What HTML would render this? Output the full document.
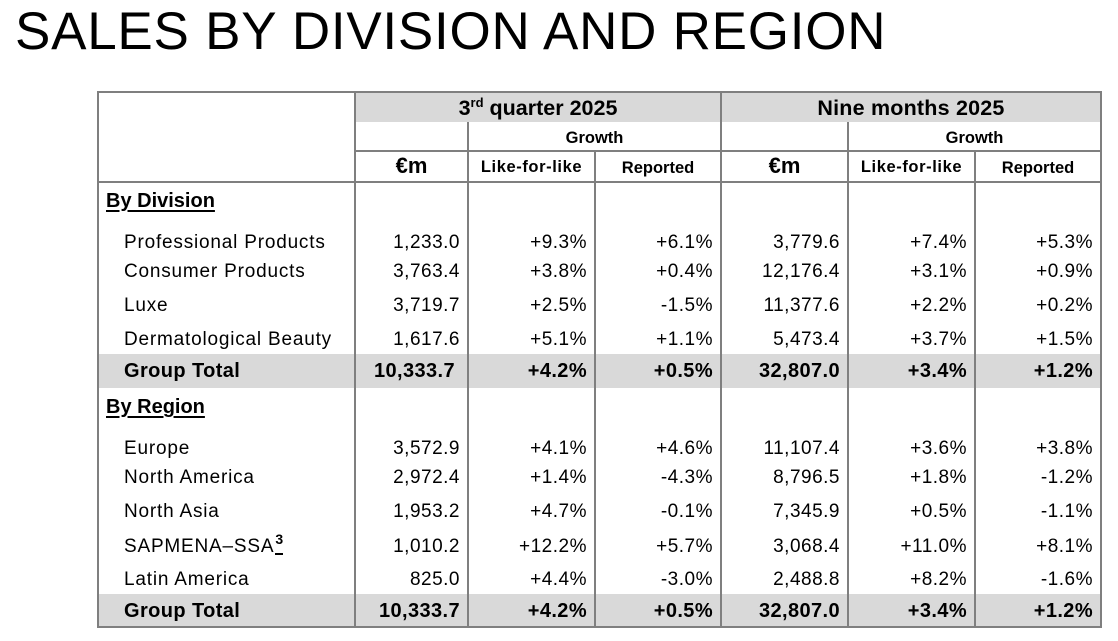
<!DOCTYPE html>
<html><head><meta charset="utf-8">
<style>
html,body{margin:0;padding:0;background:#fff;}
#p{position:relative;width:1118px;height:641px;overflow:hidden;background:#fff;font-family:"Liberation Sans",sans-serif;color:#000;}
.t{position:absolute;left:15px;top:5px;font-size:53px;line-height:53px;letter-spacing:0.75px;white-space:nowrap;}
.b{position:absolute;background:#d9d9d9;}
.l{position:absolute;background:#7f7f7f;}
.r{position:absolute;left:0;width:1118px;height:30px;line-height:30px;white-space:nowrap;}
.r > span{position:absolute;top:0;}
.lab{left:124px;font-size:19px;letter-spacing:0.8px;}
.sec{left:106px;font-size:20px;font-weight:bold;text-decoration:underline;text-underline-offset:3px;}
.n{font-size:19px;letter-spacing:0.5px;}
.bd .n,.bd .lab{font-size:20px;font-weight:bold;letter-spacing:0.4px;}
.c1{right:658px}.c2{right:531px}.c3{right:405px}.c4{right:278px}.c5{right:151px}.c6{right:25px}
.h{position:absolute;height:30px;line-height:30px;text-align:center;font-weight:bold;white-space:nowrap;}
.sup3{position:relative;top:-8px;font-size:14px;font-weight:bold;letter-spacing:0;margin-left:1px;}
.sup3::after{content:"";position:absolute;left:0;right:0;bottom:-8px;height:2px;background:#000;}
</style></head><body>
<div id="p">
<div class="t">SALES BY DIVISION AND REGION</div>

<!-- bands -->
<div class="b" style="left:355px;top:92px;width:746px;height:30px;"></div>
<div class="b" style="left:98px;top:354px;width:1003px;height:34px;"></div>
<div class="b" style="left:98px;top:594px;width:1003px;height:33px;"></div>

<!-- lines -->
<div class="l" style="left:97px;top:91px;width:1005px;height:2px;"></div>
<div class="l" style="left:97px;top:626px;width:1005px;height:2px;"></div>
<div class="l" style="left:97px;top:91px;width:2px;height:537px;"></div>
<div class="l" style="left:1100px;top:91px;width:2px;height:537px;"></div>
<div class="l" style="left:354px;top:91px;width:2px;height:537px;"></div>
<div class="l" style="left:720px;top:91px;width:2px;height:537px;"></div>
<div class="l" style="left:467px;top:122px;width:2px;height:506px;"></div>
<div class="l" style="left:847px;top:122px;width:2px;height:506px;"></div>
<div class="l" style="left:594px;top:151px;width:2px;height:477px;"></div>
<div class="l" style="left:974px;top:151px;width:2px;height:477px;"></div>
<div class="l" style="left:355px;top:150px;width:746px;height:2px;"></div>
<div class="l" style="left:98px;top:181px;width:1003px;height:2px;"></div>

<!-- headers -->
<div class="h" style="left:355px;width:366px;top:93px;font-size:21.5px;">3<span style="font-size:13px;position:relative;top:-8px;">rd</span> quarter 2025</div>
<div class="h" style="left:721px;width:380px;top:93px;font-size:21.5px;letter-spacing:0.2px;">Nine months 2025</div>
<div class="h" style="left:468px;width:253px;top:123px;font-size:16.5px;">Growth</div>
<div class="h" style="left:848px;width:253px;top:123px;font-size:16.5px;">Growth</div>
<div class="h" style="left:355px;width:113px;top:151px;font-size:22px;">€m</div>
<div class="h" style="left:468px;width:127px;top:152px;font-size:16.5px;letter-spacing:0.6px;">Like-for-like</div>
<div class="h" style="left:595px;width:126px;top:153px;font-size:16.5px;">Reported</div>
<div class="h" style="left:721px;width:127px;top:151px;font-size:22px;">€m</div>
<div class="h" style="left:848px;width:127px;top:152px;font-size:16.5px;letter-spacing:0.6px;">Like-for-like</div>
<div class="h" style="left:975px;width:126px;top:153px;font-size:16.5px;">Reported</div>

<!-- body -->
<div class="r" style="top:186px;"><span class="sec">By Division</span></div>

<div class="r" style="top:228px;"><span class="lab">Professional Products</span><span class="n c1">1,233.0</span><span class="n c2">+9.3%</span><span class="n c3">+6.1%</span><span class="n c4">3,779.6</span><span class="n c5">+7.4%</span><span class="n c6">+5.3%</span></div>
<div class="r" style="top:257px;"><span class="lab">Consumer Products</span><span class="n c1">3,763.4</span><span class="n c2">+3.8%</span><span class="n c3">+0.4%</span><span class="n c4">12,176.4</span><span class="n c5">+3.1%</span><span class="n c6">+0.9%</span></div>
<div class="r" style="top:291px;"><span class="lab">Luxe</span><span class="n c1">3,719.7</span><span class="n c2">+2.5%</span><span class="n c3">-1.5%</span><span class="n c4">11,377.6</span><span class="n c5">+2.2%</span><span class="n c6">+0.2%</span></div>
<div class="r" style="top:325px;"><span class="lab">Dermatological Beauty</span><span class="n c1">1,617.6</span><span class="n c2">+5.1%</span><span class="n c3">+1.1%</span><span class="n c4">5,473.4</span><span class="n c5">+3.7%</span><span class="n c6">+1.5%</span></div>
<div class="r bd" style="top:356px;"><span class="lab">Group Total</span><span class="n" style="right:663px;">10,333.7</span><span class="n c2">+4.2%</span><span class="n c3">+0.5%</span><span class="n c4">32,807.0</span><span class="n c5">+3.4%</span><span class="n c6">+1.2%</span></div>

<div class="r" style="top:392px;"><span class="sec">By Region</span></div>

<div class="r" style="top:434px;"><span class="lab">Europe</span><span class="n c1">3,572.9</span><span class="n c2">+4.1%</span><span class="n c3">+4.6%</span><span class="n c4">11,107.4</span><span class="n c5">+3.6%</span><span class="n c6">+3.8%</span></div>
<div class="r" style="top:463px;"><span class="lab">North America</span><span class="n c1">2,972.4</span><span class="n c2">+1.4%</span><span class="n c3">-4.3%</span><span class="n c4">8,796.5</span><span class="n c5">+1.8%</span><span class="n c6">-1.2%</span></div>
<div class="r" style="top:497px;"><span class="lab">North Asia</span><span class="n c1">1,953.2</span><span class="n c2">+4.7%</span><span class="n c3">-0.1%</span><span class="n c4">7,345.9</span><span class="n c5">+0.5%</span><span class="n c6">-1.1%</span></div>
<div class="r" style="top:532px;"><span class="lab">SAPMENA–SSA<span class="sup3">3</span></span><span class="n c1">1,010.2</span><span class="n c2">+12.2%</span><span class="n c3">+5.7%</span><span class="n c4">3,068.4</span><span class="n c5">+11.0%</span><span class="n c6">+8.1%</span></div>
<div class="r" style="top:565px;"><span class="lab">Latin America</span><span class="n c1">825.0</span><span class="n c2">+4.4%</span><span class="n c3">-3.0%</span><span class="n c4">2,488.8</span><span class="n c5">+8.2%</span><span class="n c6">-1.6%</span></div>
<div class="r bd" style="top:596px;"><span class="lab">Group Total</span><span class="n c1">10,333.7</span><span class="n c2">+4.2%</span><span class="n c3">+0.5%</span><span class="n c4">32,807.0</span><span class="n c5">+3.4%</span><span class="n c6">+1.2%</span></div>
</div>
</body></html>
